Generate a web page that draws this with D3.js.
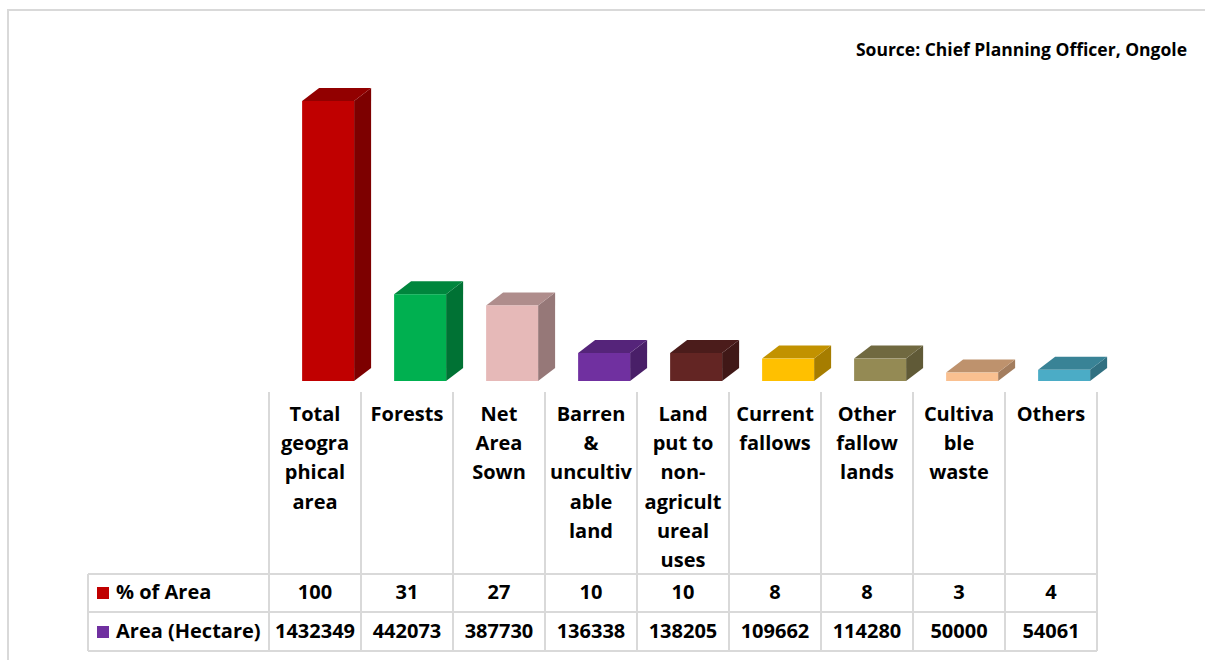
<!DOCTYPE html>
<html>
<head>
<meta charset="utf-8">
<script src="https://cdn.jsdelivr.net/npm/d3@7/dist/d3.min.js"></script>
<style>
  html, body { margin: 0; padding: 0; background: #fff; }
  svg { display: block; }
  text { font-family: "Open Sans", Lato, sans-serif; font-weight: bold; fill: #000; }
</style>
</head>
<body>
<svg id="chart" width="1205" height="660"></svg>
<script>
// ---- data ----
const categories = ["Total geographical area", "Forests", "Net Area Sown", "Barren & uncultivable land",
  "Land put to non-agricultureal uses", "Current fallows", "Other fallow lands", "Cultivable waste", "Others"];
const categoryLines = [
  ["Total", "geogra", "phical", "area"],
  ["Forests"],
  ["Net", "Area", "Sown"],
  ["Barren", "&", "uncultiv", "able", "land"],
  ["Land", "put to", "non-", "agricult", "ureal", "uses"],
  ["Current", "fallows"],
  ["Other", "fallow", "lands"],
  ["Cultiva", "ble", "waste"],
  ["Others"]
];
const percentOfArea = [100, 31, 27, 10, 10, 8, 8, 3, 4];
const areaHectare = [1432349, 442073, 387730, 136338, 138205, 109662, 114280, 50000, 54061];
const barColors = ["#C00000", "#00B050", "#E6B9B8", "#7030A0", "#632523", "#FFC000", "#948A54", "#FAC090", "#4BACC6"];
const seriesNames = ["% of Area", "Area (Hectare)"];
const seriesKeyColors = ["#C00000", "#7030A0"];
const sourceText = "Source: Chief Planning Officer, Ongole";

// ---- layout ----
const svg = d3.select("#chart");
const gridColor = "#d9d9d9";

const x = d3.scaleBand().domain(categories).range([269, 1097]).padding(0);
const y = d3.scaleLinear().domain([0, 100]).range([381, 101]);
const bw = x.bandwidth();
const frontOffset = bw * 0.36;
const frontW = bw * 0.565;
const dx = 17, dy = 13;

// outer frame
svg.append("path")
  .attr("d", "M8,662 L8,10 L1207,10")
  .attr("fill", "none").attr("stroke", gridColor).attr("stroke-width", 2);

// source
svg.append("text")
  .attr("x", 1187).attr("y", 56)
  .attr("text-anchor", "end")
  .style("font-size", "17.5px")
  .text(sourceText);

// 3D bars
const bars = svg.append("g").selectAll("g.bar")
  .data(categories.map((c, i) => ({c, v: percentOfArea[i], col: barColors[i]})))
  .join("g").attr("class", "bar");

bars.each(function(d) {
  const g = d3.select(this);
  const x0 = x(d.c) + frontOffset, x1 = x0 + frontW;
  const yb = y(0), yt = y(d.v);
  const base = d3.color(d.col);
  const topCol = d3.rgb(base.r * 0.76, base.g * 0.76, base.b * 0.76);
  const sideCol = d3.rgb(base.r * 0.65, base.g * 0.65, base.b * 0.65);
  g.append("path")
    .attr("d", `M${x1},${yb} L${x1 + dx},${yb - dy} L${x1 + dx},${yt - dy} L${x1},${yt} Z`)
    .attr("fill", sideCol);
  g.append("path")
    .attr("d", `M${x0},${yt} L${x0 + dx},${yt - dy} L${x1 + dx},${yt - dy} L${x1},${yt} Z`)
    .attr("fill", topCol);
  g.append("rect")
    .attr("x", x0).attr("y", yt).attr("width", frontW).attr("height", yb - yt)
    .attr("fill", d.col);
});

// data table grid
const tableLeft = 88, tableTop = 392, row1 = 574, row2 = 612, row3 = 651;
const grid = svg.append("g").attr("stroke", gridColor).attr("stroke-width", 2).attr("fill", "none");
const bounds = categories.map(c => x(c)).concat([x.range()[1]]);
bounds.forEach(bx => {
  grid.append("line").attr("x1", bx).attr("x2", bx).attr("y1", tableTop).attr("y2", row3);
});
grid.append("line").attr("x1", tableLeft).attr("x2", tableLeft).attr("y1", row1).attr("y2", row3);
[row1, row2, row3].forEach(ry => {
  grid.append("line").attr("x1", tableLeft).attr("x2", x.range()[1]).attr("y1", ry).attr("y2", ry);
});

// category headers
const hdr = svg.append("g");
categories.forEach((c, i) => {
  const t = hdr.append("text")
    .attr("text-anchor", "middle")
    .style("font-size", "20px");
  categoryLines[i].forEach((ln, j) => {
    t.append("tspan").attr("x", x(c) + bw / 2).attr("y", 421 + j * 29.2).text(ln);
  });
});

// rows
const rows = [percentOfArea, areaHectare];
const rowBase = [599, 638];
const rowKeyY = [587, 626];
rows.forEach((vals, r) => {
  svg.append("rect").attr("x", 97).attr("y", rowKeyY[r]).attr("width", 12).attr("height", 12)
    .attr("fill", seriesKeyColors[r]);
  svg.append("text").attr("x", 116).attr("y", rowBase[r]).style("font-size", "20px").text(seriesNames[r]);
  categories.forEach((c, i) => {
    svg.append("text")
      .attr("x", x(c) + bw / 2).attr("y", rowBase[r])
      .attr("text-anchor", "middle")
      .style("font-size", "20px")
      .text(vals[i]);
  });
});
</script>
</body>
</html>
